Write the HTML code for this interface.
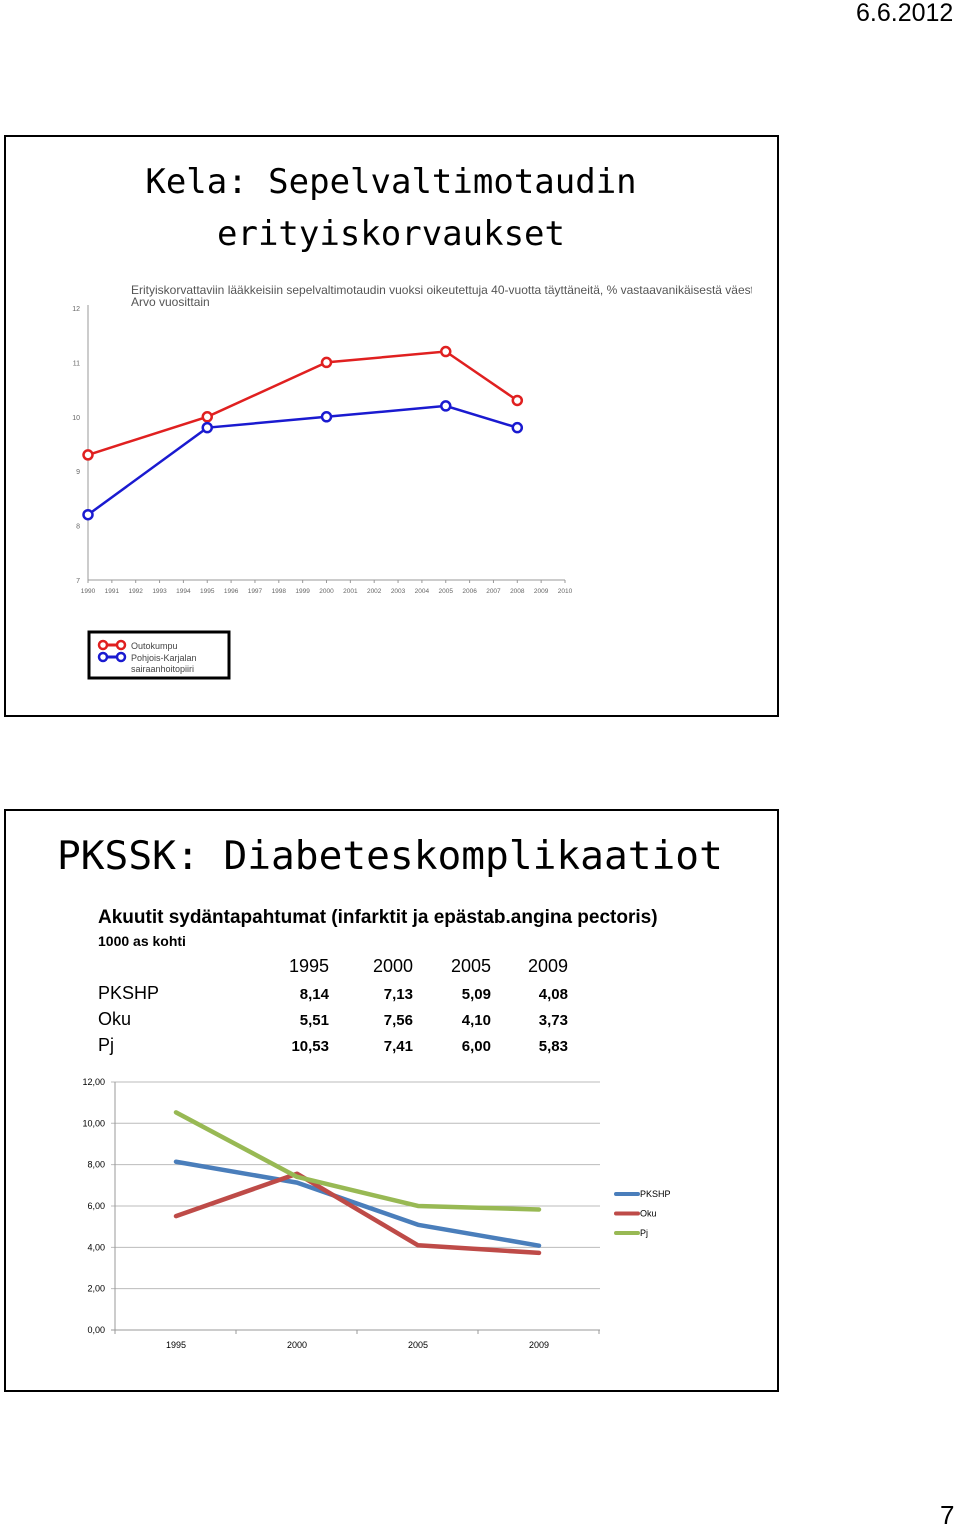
<!DOCTYPE html>
<html><head><meta charset="utf-8"><style>
body{margin:0;width:960px;height:1527px;background:#fff;position:relative;font-family:"Liberation Sans",sans-serif;overflow:hidden}
.abs{position:absolute}
.slide{position:absolute;border:2px solid #000;background:#fff}
.mono{font-family:"DejaVu Sans Mono","Liberation Mono",monospace;color:#000}
</style></head><body>
<div class="abs" style="left:856px;top:-1px;font-size:25px">6.6.2012</div>
<div class="abs" style="left:940px;top:1500px;font-size:26px">7</div>

<div class="slide" style="left:4px;top:135px;width:771px;height:578px"></div>
<div class="abs mono" style="left:0;top:156px;width:782px;text-align:center;font-size:34px;line-height:52px">Kela: Sepelvaltimotaudin<br>erityiskorvaukset</div>
<svg class="abs" style="left:0;top:0" width="960" height="1527">
<defs><clipPath id="cl"><rect x="0" y="0" width="752" height="1527"/></clipPath></defs>
<text x="131" y="294" font-size="12" fill="#555" clip-path="url(#cl)">Erityiskorvattaviin lääkkeisiin sepelvaltimotaudin vuoksi oikeutettuja 40-vuotta täyttäneitä, % vastaavanikäisestä väestöstä</text>
<text x="131" y="306" font-size="12" fill="#555">Arvo vuosittain</text>
<g id="k"></g>
<rect x="89" y="632" width="140" height="46" fill="#fff" stroke="#000" stroke-width="3"/>
<g><line x1="103" y1="645" x2="121" y2="645" stroke="#e02020" stroke-width="3"/><circle cx="103" cy="645" r="4" fill="#fff" stroke="#e02020" stroke-width="2.5"/><circle cx="121" cy="645" r="4" fill="#fff" stroke="#e02020" stroke-width="2.5"/><text x="131" y="649" font-size="9" fill="#444">Outokumpu</text></g>
<g><line x1="103" y1="657" x2="121" y2="657" stroke="#1a1ad0" stroke-width="3"/><circle cx="103" cy="657" r="4" fill="#fff" stroke="#1a1ad0" stroke-width="2.5"/><circle cx="121" cy="657" r="4" fill="#fff" stroke="#1a1ad0" stroke-width="2.5"/><text x="131" y="661" font-size="9" fill="#444">Pohjois-Karjalan</text><text x="131" y="672" font-size="9" fill="#444">sairaanhoitopiiri</text></g>
</svg>

<div class="slide" style="left:4px;top:809px;width:771px;height:579px"></div>
<div class="abs mono" style="left:57px;top:830px;font-size:39.5px;line-height:52px">PKSSK: Diabeteskomplikaatiot</div>
<div class="abs" style="left:98px;top:907px;font-size:19px;font-weight:bold">Akuutit sydäntapahtumat (infarktit ja epästab.angina pectoris)</div>
<div class="abs" style="left:98px;top:933px;font-size:14px;font-weight:bold">1000 as kohti</div>
<svg class="abs" style="left:0;top:0" width="960" height="1527">
<g id="tbl" font-family="Liberation Sans, sans-serif"></g>
<g id="p"></g>
</svg>
<script>
const NS="http://www.w3.org/2000/svg";
function mk(par,tag,at){const e=document.createElementNS(NS,tag);for(const k in at)e.setAttribute(k,at[k]);par.appendChild(e);return e;}
// ---- Kela chart data ----
const kYears=[1990,1995,2000,2005,2008];
const kOutokumpu=[9.3,10.0,11.0,11.2,10.3];
const kPohjois=[8.2,9.8,10.0,10.2,9.8];
const kYTicks=[7,8,9,10,11,12];
const kXTicks=[1990,1991,1992,1993,1994,1995,1996,1997,1998,1999,2000,2001,2002,2003,2004,2005,2006,2007,2008,2009,2010];
const kx=y=>88+(y-1990)*23.85, ky=v=>580-(v-7)*54.4;
const K=document.getElementById('k');
let ax=mk(K,'line',{x1:88,y1:305,x2:88,y2:580,stroke:'#999'});

ax=mk(K,'line',{x1:88,y1:580,x2:565,y2:580,stroke:'#999'});

kYTicks.forEach(v=>{const t=mk(K,'text',{x:80,y:ky(v)+3,'font-size':7,fill:'#666','text-anchor':'end'});t.textContent=v;
});
kXTicks.forEach(v=>{mk(K,'line',{x1:kx(v),y1:580,x2:kx(v),y2:583,stroke:'#999'});const t=mk(K,'text',{x:kx(v),y:593,'font-size':6.5,fill:'#666','text-anchor':'middle'});t.textContent=v;
});
[[kOutokumpu,'#e02020','outokumpu'],[kPohjois,'#1a1ad0','pohjois-karjala']].forEach(([d,c,n])=>{
 const pl=mk(K,'polyline',{points:d.map((v,i)=>kx(kYears[i])+','+ky(v)).join(' '),fill:'none',stroke:c,'stroke-width':2.5});
 
 d.forEach((v,i)=>{const c2=mk(K,'circle',{cx:kx(kYears[i]),cy:ky(v),r:4.5,fill:'#fff',stroke:c,'stroke-width':2.5});
 });
});
// ---- PKSSK data ----
const pYears=['1995','2000','2005','2009'];
const pPKSHP=[8.14,7.13,5.09,4.08];
const pOku=[5.51,7.56,4.10,3.73];
const pPj=[10.53,7.41,6.00,5.83];
const pYTicks=[0,2,4,6,8,10,12];
const fmt=v=>v.toFixed(2).replace('.',',');
const T=document.getElementById('tbl');
const colX=[329,413,491,568];
pYears.forEach((y,i)=>{const t=mk(T,'text',{x:colX[i],y:972,'font-size':18,'text-anchor':'end'});t.textContent=y;
});
[['PKSHP',pPKSHP,999],['Oku',pOku,1025],['Pj',pPj,1051]].forEach(([n,d,yy])=>{
 const l=mk(T,'text',{x:98,y:yy,'font-size':18});l.textContent=n;
 
 d.forEach((v,i)=>{const t=mk(T,'text',{x:colX[i],y:yy,'font-size':15,'font-weight':'bold','text-anchor':'end'});t.textContent=fmt(v);
 });
});
const P=document.getElementById('p');
const px=i=>176+i*121, py=v=>1330-v*20.67;
pYTicks.forEach(v=>{const g=mk(P,'line',{x1:111,y1:py(v),x2:600,y2:py(v),stroke:v===0?'#999':'#bbb'});

const t=mk(P,'text',{x:105,y:py(v)+3,'font-size':9,'text-anchor':'end',fill:'#000'});t.textContent=fmt(v);
});
let ya=mk(P,'line',{x1:115,y1:1082,x2:115,y2:1330,stroke:'#999'});

for(let i=0;i<=4;i++)mk(P,'line',{x1:115+i*121,y1:1330,x2:115+i*121,y2:1334,stroke:'#999'});
pYears.forEach((y,i)=>{const t=mk(P,'text',{x:px(i),y:1348,'font-size':9,'text-anchor':'middle'});t.textContent=y;
});
const series=[['PKSHP',pPKSHP,'#4a7ebb'],['Oku',pOku,'#be4b48'],['Pj',pPj,'#98b954']];
series.forEach(([n,d,c],k)=>{
 const pl=mk(P,'polyline',{points:d.map((v,i)=>px(i)+','+py(v)).join(' '),fill:'none',stroke:c,'stroke-width':4.5,'stroke-linecap':'round','stroke-linejoin':'round'});
 
 const ly=1194+k*19.5;
 const ll=mk(P,'line',{x1:616,y1:ly,x2:638,y2:ly,stroke:c,'stroke-width':4,'stroke-linecap':'round'});
 
 const lt=mk(P,'text',{x:640,y:ly+3,'font-size':9});lt.textContent=n;
 
});
</script>
</body></html>
